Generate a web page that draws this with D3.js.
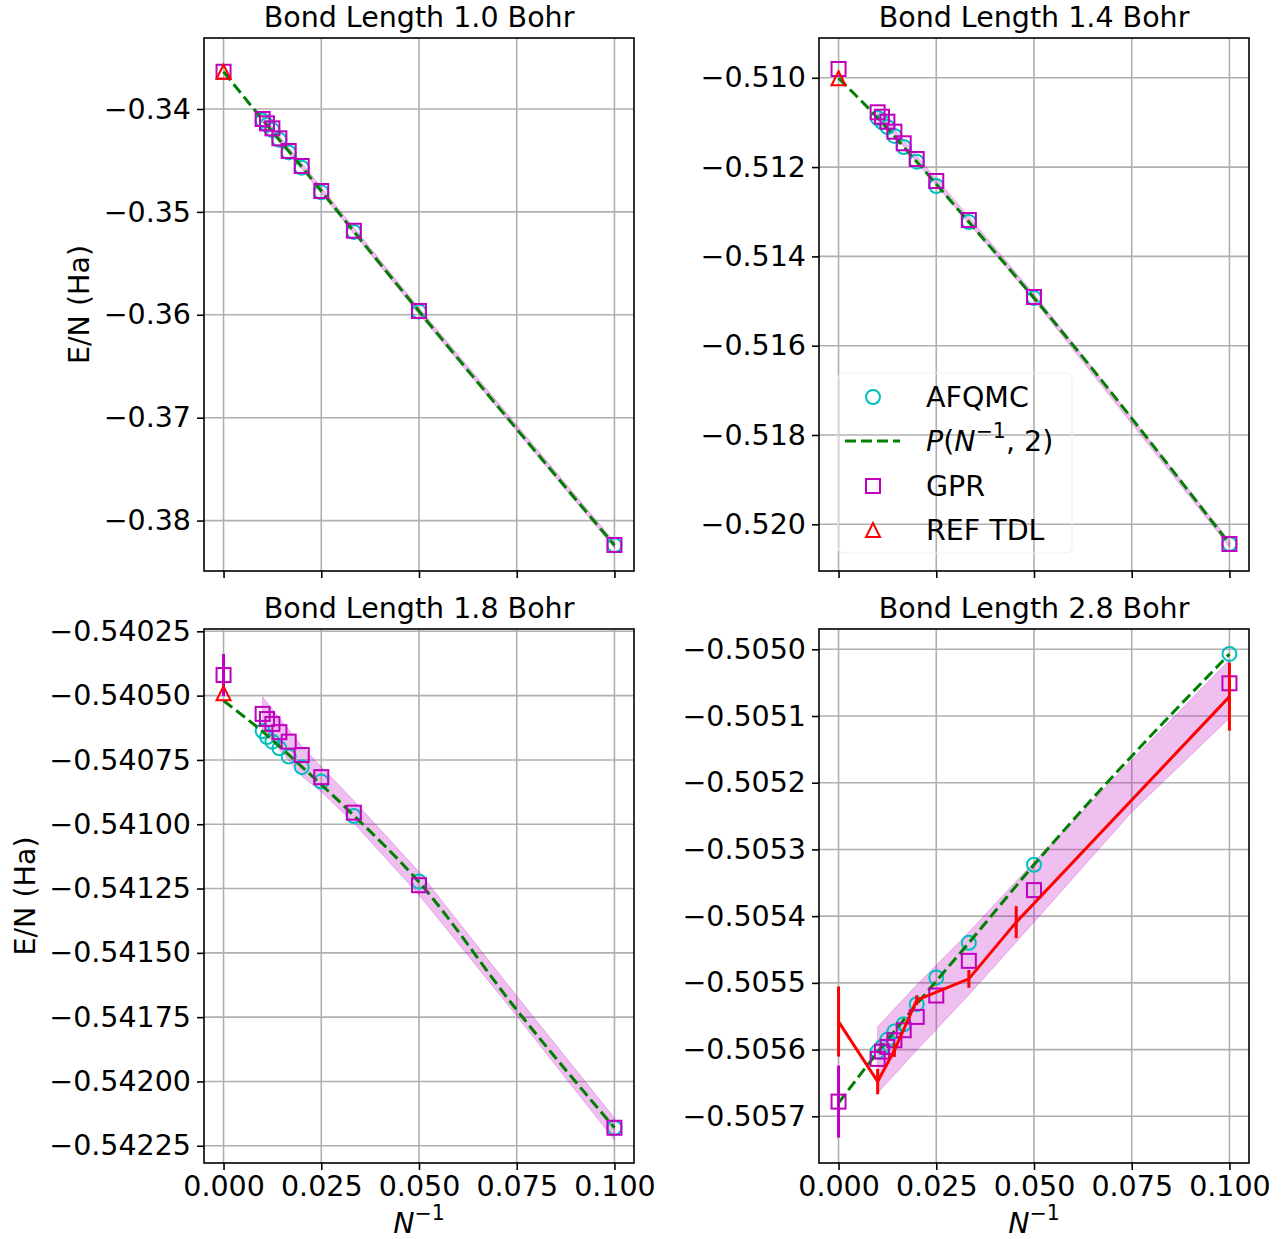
<!DOCTYPE html>
<html><head><meta charset="utf-8">
<script src="https://cdn.jsdelivr.net/npm/d3@7"></script>
<style>body{margin:0;background:#fff} text{font-family:"DejaVu Sans",sans-serif;fill:#000}</style>
</head><body><svg id="c" width="1286" height="1239"></svg>
<script>
// ---------------- DATA ----------------
// x = N^-1 for N = 10,20,...,100
const invN = [0.1, 0.05, 0.0333333, 0.025, 0.02, 0.0166667, 0.0142857, 0.0125, 0.0111111, 0.01];
const xTicks = [0, 0.025, 0.05, 0.075, 0.1];
const titles = ["Bond Length 1.0 Bohr", "Bond Length 1.4 Bohr", "Bond Length 1.8 Bohr", "Bond Length 2.8 Bohr"];

// Bond length 1.0
const afqmc10 = [-0.38240, -0.35968, -0.35195, -0.34810, -0.34570, -0.34422, -0.34300, -0.34205, -0.34155, -0.34112];
const gpr10   = [-0.38237, -0.35963, -0.35183, -0.34797, -0.34554, -0.34408, -0.34285, -0.34188, -0.34139, -0.34097];
const gprTdl10 = -0.33638, gprTdlErr10 = 0.0;
const refTdl10 = -0.33638;
const fitX10 = [0, 0.01, 0.02, 0.0333333, 0.05, 0.1];
const fitY10 = [-0.33638, -0.34105, -0.34562, -0.35190, -0.35966, -0.38240];
const bandX10 = [0.01, 0.02, 0.0333333, 0.05, 0.1];
const bandHi10 = [-0.34067, -0.34524, -0.35153, -0.35933, -0.38207];
const bandLo10 = [-0.34127, -0.34584, -0.35213, -0.35993, -0.38267];
const yTicks10 = [-0.34, -0.35, -0.36, -0.37, -0.38];

// Bond length 1.4
const afqmc14 = [-0.520441, -0.514932, -0.513230, -0.512423, -0.511879, -0.511550, -0.511303, -0.511102, -0.510990, -0.510900];
const gpr14   = [-0.520441, -0.514909, -0.513185, -0.512311, -0.511819, -0.511467, -0.511207, -0.510983, -0.510871, -0.510773];
const gprTdl14 = -0.509803, gprTdlErr14 = 0.0;
const refTdl14 = -0.510011;
const fitX14 = [0, 0.01, 0.02, 0.0333333, 0.05, 0.1];
const fitY14 = [-0.51001, -0.51090, -0.51188, -0.51323, -0.51493, -0.52044];
const bandX14 = [0.01, 0.02, 0.0333333, 0.05, 0.1];
const bandHi14 = [-0.51070, -0.51175, -0.51311, -0.51484, -0.52037];
const bandLo14 = [-0.51085, -0.51189, -0.51326, -0.51498, -0.52051];
const yTicks14 = [-0.510, -0.512, -0.514, -0.516, -0.518, -0.520];

// Bond length 1.8
const afqmc18 = [-0.542180, -0.541223, -0.540968, -0.540834, -0.540778, -0.540737, -0.540705, -0.540679, -0.540661, -0.540638];
const gpr18   = [-0.542180, -0.541237, -0.540955, -0.540817, -0.540731, -0.540679, -0.540642, -0.540610, -0.540591, -0.540571];
const gprTdl18 = -0.540420, gprTdlErr18 = 0.000082;
const refTdl18 = -0.540491;
const fitX18 = [0, 0.01, 0.02, 0.0333333, 0.05, 0.075, 0.1];
const fitY18 = [-0.540520, -0.540640, -0.540776, -0.540966, -0.541225, -0.541722, -0.542180];
const bandX18 = [0.01, 0.02, 0.025, 0.0333333, 0.05, 0.075, 0.1];
const bandHi18 = [-0.540505, -0.540696, -0.540777, -0.540909, -0.541185, -0.541668, -0.542142];
const bandLo18 = [-0.540633, -0.540812, -0.540874, -0.540995, -0.541275, -0.541745, -0.542228];
const yTicks18 = [-0.54025, -0.54050, -0.54075, -0.54100, -0.54125, -0.54150, -0.54175, -0.54200, -0.54225];

// Bond length 2.8
const afqmc28 = [-0.505007, -0.505323, -0.505440, -0.505492, -0.505532, -0.505562, -0.505573, -0.505585, -0.505596, -0.505603];
const gpr28   = [-0.505051, -0.505361, -0.505467, -0.505519, -0.505551, -0.505571, -0.505586, -0.505596, -0.505603, -0.505614];
const gprTdl28 = -0.505678, gprTdlErr28 = 0.000054;
const fitX28 = [0, 0.01, 0.02, 0.0333333, 0.05, 0.1];
const fitY28 = [-0.505680, -0.505604, -0.505532, -0.505440, -0.505323, -0.505007];
const bandX28 = [0.01, 0.02, 0.0333333, 0.05, 0.075, 0.1];
const bandHi28 = [-0.505566, -0.505503, -0.505424, -0.505319, -0.505166, -0.505016];
const bandLo28 = [-0.505665, -0.505601, -0.505518, -0.505409, -0.505244, -0.505103];
const refX28 = [0, 0.01, 0.0142857, 0.02, 0.0333333, 0.0454545, 0.1];
const refY28 = [-0.505558, -0.505648, -0.505601, -0.505526, -0.505494, -0.505409, -0.505071];
const refErr28 = [0.0000525, 0.000019, 0.00001, 0.0000075, 0.0000133, 0.000024, 0.000051];
const yTicks28 = [-0.5050, -0.5051, -0.5052, -0.5053, -0.5054, -0.5055, -0.5056, -0.5057];

const legendLabels = ["AFQMC", "P(N^-1, 2)", "GPR", "REF TDL"];

// ---------------- DRAW ----------------
const svg = d3.select("#c");
const C = {cyan:"#00bfbf", mag:"#bf00bf", green:"#008000", red:"#ff0000", grid:"#b0b0b0"};
const FS = 28.5;

const panels = [
  {box:{x0:204,x1:634,y0:38,y1:571}, yDom:[-0.38490,-0.33310], fmt:".2f", yTicks:yTicks10, title:titles[0],
   afqmc:afqmc10, gpr:gpr10, gprTdl:gprTdl10, gprErr:gprTdlErr10, refTdl:refTdl10, fitX:fitX10, fitY:fitY10,
   bandX:bandX10, bandHi:bandHi10, bandLo:bandLo10, ylabel:true, ylabX:89, xlabels:false},
  {box:{x0:819,x1:1249,y0:38,y1:571}, yDom:[-0.521046,-0.509109], fmt:".3f", yTicks:yTicks14, title:titles[1],
   afqmc:afqmc14, gpr:gpr14, gprTdl:gprTdl14, gprErr:gprTdlErr14, refTdl:refTdl14, fitX:fitX14, fitY:fitY14,
   bandX:bandX14, bandHi:bandHi14, bandLo:bandLo14, ylabel:false, xlabels:false, legend:true},
  {box:{x0:204,x1:634,y0:629,y1:1163}, yDom:[-0.542317,-0.540241], fmt:".5f", yTicks:yTicks18, title:titles[2],
   afqmc:afqmc18, gpr:gpr18, gprTdl:gprTdl18, gprErr:gprTdlErr18, refTdl:refTdl18, fitX:fitX18, fitY:fitY18,
   bandX:bandX18, bandHi:bandHi18, bandLo:bandLo18, ylabel:true, ylabX:35, xlabels:true},
  {box:{x0:819,x1:1249,y0:629,y1:1163}, yDom:[-0.505770,-0.5049696], fmt:".4f", yTicks:yTicks28, title:titles[3],
   afqmc:afqmc28, gpr:gpr28, gprTdl:gprTdl28, gprErr:gprTdlErr28, refTdl:null, fitX:fitX28, fitY:fitY28,
   bandX:bandX28, bandHi:bandHi28, bandLo:bandLo28, ylabel:false, xlabels:true,
   refX:refX28, refY:refY28, refErr:refErr28}
];

function square(g, cx, cy, s){ g.append("rect").attr("x",cx-s/2).attr("y",cy-s/2).attr("width",s).attr("height",s)
  .attr("fill","none").attr("stroke",C.mag).attr("stroke-width",2); }
function circle(g, cx, cy, r){ g.append("circle").attr("cx",cx).attr("cy",cy).attr("r",r)
  .attr("fill","none").attr("stroke",C.cyan).attr("stroke-width",2); }
function tri(g, cx, cy, s){ const h=s/2; g.append("path").attr("d",`M${cx},${cy-h}L${cx-h},${cy+h}L${cx+h},${cy+h}Z`)
  .attr("fill","none").attr("stroke",C.red).attr("stroke-width",2); }

panels.forEach((p,i)=>{
  const b = p.box;
  const x = d3.scaleLinear().domain([-0.005,0.105]).range([b.x0,b.x1]);
  const y = d3.scaleLinear().domain(p.yDom).range([b.y1,b.y0]);
  const g = svg.append("g");
  const cid = "clip"+i;
  svg.append("clipPath").attr("id",cid).append("rect").attr("x",b.x0).attr("y",b.y0).attr("width",b.x1-b.x0).attr("height",b.y1-b.y0);

  // grid
  const grid = g.append("g");
  xTicks.forEach(t=>grid.append("line").attr("x1",x(t)).attr("x2",x(t)).attr("y1",b.y0).attr("y2",b.y1)
    .attr("stroke",C.grid).attr("stroke-width",1.6));
  p.yTicks.forEach(t=>grid.append("line").attr("x1",b.x0).attr("x2",b.x1).attr("y1",y(t)).attr("y2",y(t))
    .attr("stroke",C.grid).attr("stroke-width",1.6));

  // legend frame (drawn under data)
  if (p.legend) {
    g.append("rect").attr("x",838).attr("y",373).attr("width",234).attr("height",180).attr("rx",6)
      .attr("fill","none").attr("stroke","#efefef").attr("stroke-width",1.2);
  }

  const d = g.append("g").attr("clip-path",`url(#${cid})`);
  // band
  const bandData = p.bandX.map((v,k)=>[v,p.bandLo[k],p.bandHi[k]]);
  d.append("path").datum(bandData)
    .attr("d", d3.area().x(q=>x(q[0])).y0(q=>y(q[1])).y1(q=>y(q[2])))
    .attr("fill",C.mag).attr("fill-opacity",0.25).attr("stroke",C.mag).attr("stroke-opacity",0.25).attr("stroke-width",1);

  // AFQMC
  invN.forEach((v,k)=>circle(d, x(v), y(p.afqmc[k]), 7));
  // fit
  d.append("path").datum(p.fitX.map((v,k)=>[v,p.fitY[k]]))
    .attr("d", d3.line().x(q=>x(q[0])).y(q=>y(q[1])).curve(d3.curveMonotoneX))
    .attr("fill","none").attr("stroke",C.green).attr("stroke-width",3).attr("stroke-dasharray","11,5");
  // GPR
  invN.forEach((v,k)=>square(d, x(v), y(p.gpr[k]), 14));
  if (p.gprErr > 0) {
    d.append("line").attr("x1",x(0)).attr("x2",x(0)).attr("y1",y(p.gprTdl-p.gprErr)).attr("y2",y(p.gprTdl+p.gprErr))
      .attr("stroke",C.mag).attr("stroke-width",3);
  }
  square(d, x(0), y(p.gprTdl), 14);
  if (p.refTdl !== null) tri(d, x(0), y(p.refTdl), 14);
  // reference line with error bars
  if (p.refX) {
    d.append("path").datum(p.refX.map((v,k)=>[v,p.refY[k]]))
      .attr("d", d3.line().x(q=>x(q[0])).y(q=>y(q[1])))
      .attr("fill","none").attr("stroke",C.red).attr("stroke-width",3);
    p.refX.forEach((v,k)=>d.append("line").attr("x1",x(v)).attr("x2",x(v))
      .attr("y1",y(p.refY[k]-p.refErr[k])).attr("y2",y(p.refY[k]+p.refErr[k]))
      .attr("stroke",C.red).attr("stroke-width",3));
  }

  // axes
  const ya = g.append("g").attr("transform",`translate(${b.x0},0)`)
    .call(d3.axisLeft(y).tickValues(p.yTicks).tickFormat(d3.format(p.fmt)).tickSize(7).tickSizeOuter(0).tickPadding(6));
  const xa = g.append("g").attr("transform",`translate(0,${b.y1})`)
    .call(d3.axisBottom(x).tickValues(xTicks).tickFormat(p.xlabels ? d3.format(".3f") : ()=>"").tickSize(7).tickSizeOuter(0).tickPadding(6));
  [ya,xa].forEach(a=>{
    a.select(".domain").remove();
    a.selectAll("line").attr("stroke","#000").attr("stroke-width",1.6);
    a.selectAll("text").attr("font-size",FS).attr("font-family","DejaVu Sans").attr("fill","#000");
  });
  // spines
  g.append("rect").attr("x",b.x0).attr("y",b.y0).attr("width",b.x1-b.x0).attr("height",b.y1-b.y0)
    .attr("fill","none").attr("stroke","#000").attr("stroke-width",1.6);

  // title
  g.append("text").attr("x",(b.x0+b.x1)/2).attr("y",b.y0-11).attr("text-anchor","middle").attr("font-size",FS).text(p.title);

  if (p.ylabel) {
    g.append("text").attr("transform",`translate(${p.ylabX},${(b.y0+b.y1)/2}) rotate(-90)`)
      .attr("text-anchor","middle").attr("font-size",FS).text("E/N (Ha)");
  }
  if (p.xlabels) {
    const t = g.append("text").attr("x",(b.x0+b.x1)/2).attr("y",1233).attr("text-anchor","middle").attr("font-size",FS);
    t.append("tspan").attr("font-style","italic").text("N");
    t.append("tspan").attr("font-size",FS*0.72).attr("dy",-13).text("\u22121");
  }

  if (p.legend) {
    const lx = 873, tx = 926, rows = [397, 441, 486, 530];
    circle(g, lx, rows[0], 7);
    g.append("line").attr("x1",845).attr("x2",900).attr("y1",rows[1]).attr("y2",rows[1])
      .attr("stroke",C.green).attr("stroke-width",3).attr("stroke-dasharray","11,5");
    square(g, lx, rows[2], 14);
    tri(g, lx, rows[3], 14);
    const base = 10;
    g.append("text").attr("x",tx).attr("y",rows[0]+base).attr("font-size",FS).text(legendLabels[0]);
    const t = g.append("text").attr("x",tx).attr("y",rows[1]+base).attr("font-size",FS);
    t.append("tspan").attr("font-style","italic").text("P");
    t.append("tspan").text("(");
    t.append("tspan").attr("font-style","italic").text("N");
    t.append("tspan").attr("font-size",FS*0.72).attr("dy",-13).text("\u22121");
    t.append("tspan").attr("dy",13).text(", 2)");
    g.append("text").attr("x",tx).attr("y",rows[2]+base).attr("font-size",FS).text(legendLabels[2]);
    g.append("text").attr("x",tx).attr("y",rows[3]+base).attr("font-size",FS).text(legendLabels[3]);
  }
});
</script></body></html>
